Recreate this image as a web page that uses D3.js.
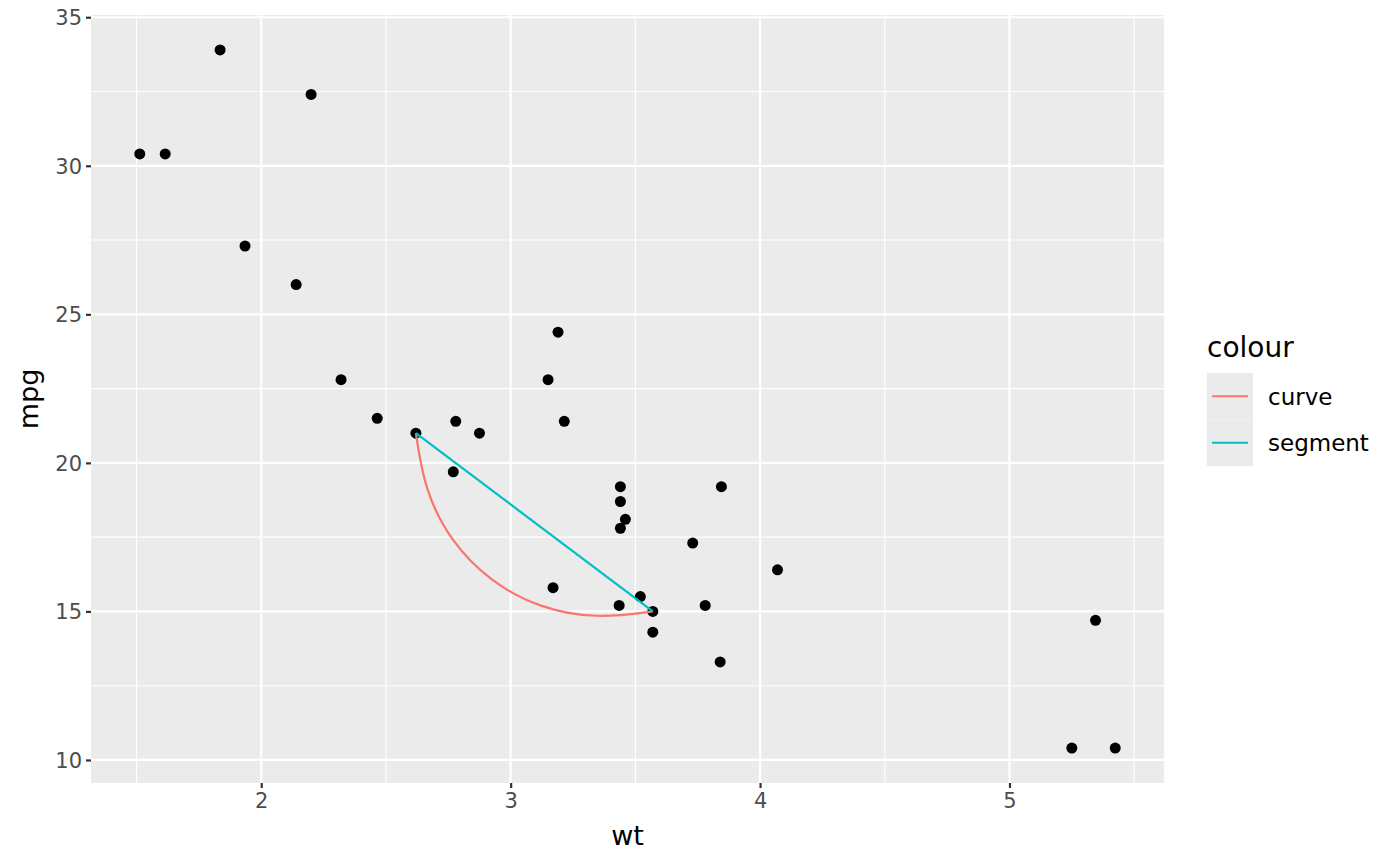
<!DOCTYPE html>
<html>
<head>
<meta charset="utf-8">
<script src="https://cdn.jsdelivr.net/npm/d3@7"></script>
<style>
  body { margin: 0; background: #fff; }
  text { font-family: "DejaVu Sans", sans-serif; }
</style>
</head>
<body>
<svg id="chart" width="1400" height="866"></svg>
<script>
// mtcars wt / mpg
var wt = [2.620, 2.875, 2.320, 3.215, 3.440, 3.460, 3.570, 3.190, 3.150, 3.440, 3.440,
          4.070, 3.730, 3.780, 5.250, 5.424, 5.345, 2.200, 1.615, 1.835, 2.465, 3.520,
          3.435, 3.840, 3.845, 1.935, 2.140, 1.513, 3.170, 2.770, 3.570, 2.780]
var mpg = [21.0, 21.0, 22.8, 21.4, 18.7, 18.1, 14.3, 24.4, 22.8, 19.2, 17.8,
           16.4, 17.3, 15.2, 10.4, 10.4, 14.7, 32.4, 30.4, 33.9, 21.5, 15.5,
           15.2, 13.3, 19.2, 27.3, 26.0, 30.4, 15.8, 19.7, 15.0, 21.4]

// the annotation from (x1,y1) to (x2,y2)
var segX = [2.62, 3.57]
var segY = [21.0, 15.0]
var curvature = 0.5

var xTicks = [2, 3, 4, 5]
var xMinor = [1.5, 2.5, 3.5, 4.5, 5.5]
var yTicks = [10, 15, 20, 25, 30, 35]
var yMinor = [12.5, 17.5, 22.5, 27.5, 32.5]

var legendKeys = ["curve", "segment"]
var legendColors = ["#F8766D", "#00BFC4"]

var svg = d3.select("#chart")
var pLeft = 91, pRight = 1164, pTop = 15, pBottom = 783

function expand(ext) {
    var pad = (ext[1] - ext[0]) * 0.05
    return [ext[0] - pad, ext[1] + pad]
}

var x = d3.scaleLinear().domain(expand(d3.extent(wt))).range([pLeft, pRight])
var y = d3.scaleLinear().domain(expand(d3.extent(mpg))).range([pBottom, pTop])

// panel
svg.append("rect")
    .attr("x", pLeft).attr("y", pTop)
    .attr("width", pRight - pLeft).attr("height", pBottom - pTop)
    .attr("fill", "#EBEBEB")

var grid = svg.append("g")
grid.selectAll(".xmin").data(xMinor.filter(function(d){return x(d) > pLeft && x(d) < pRight}))
    .enter().append("line")
    .attr("x1", function(d){return x(d)}).attr("x2", function(d){return x(d)})
    .attr("y1", pTop).attr("y2", pBottom)
    .attr("stroke", "#fff").attr("stroke-width", 1.1)
grid.selectAll(".ymin").data(yMinor)
    .enter().append("line")
    .attr("y1", function(d){return y(d)}).attr("y2", function(d){return y(d)})
    .attr("x1", pLeft).attr("x2", pRight)
    .attr("stroke", "#fff").attr("stroke-width", 1.1)
grid.selectAll(".xmaj").data(xTicks)
    .enter().append("line")
    .attr("x1", function(d){return x(d)}).attr("x2", function(d){return x(d)})
    .attr("y1", pTop).attr("y2", pBottom)
    .attr("stroke", "#fff").attr("stroke-width", 2.2)
grid.selectAll(".ymaj").data(yTicks)
    .enter().append("line")
    .attr("y1", function(d){return y(d)}).attr("y2", function(d){return y(d)})
    .attr("x1", pLeft).attr("x2", pRight)
    .attr("stroke", "#fff").attr("stroke-width", 2.2)

// axes
var xAxis = svg.append("g")
    .attr("transform", "translate(0," + pBottom + ")")
    .call(d3.axisBottom(x).tickValues(xTicks).tickSize(5).tickPadding(4).tickFormat(d3.format("d")))
var yAxis = svg.append("g")
    .attr("transform", "translate(" + pLeft + ",0)")
    .call(d3.axisLeft(y).tickValues(yTicks).tickSize(5).tickPadding(4).tickFormat(d3.format("d")))
;[xAxis, yAxis].forEach(function(a){
    a.attr("font-size", null).attr("font-family", null)
    a.select(".domain").remove()
    a.selectAll(".tick line").attr("stroke", "#333333").attr("stroke-width", 2.2)
    a.selectAll(".tick text").attr("fill", "#4D4D4D")
        .style("font-size", "21px")
})
xAxis.selectAll(".tick text").attr("dy", "0.78em")
yAxis.selectAll(".tick text").attr("dy", "0.36em")

svg.append("text")
    .attr("x", (pLeft + pRight) / 2).attr("y", 845)
    .attr("text-anchor", "middle")
    .style("font-size", "27px")
    .text("wt")
svg.append("text")
    .attr("transform", "translate(38," + ((pTop + pBottom) / 2) + ") rotate(-90)")
    .attr("text-anchor", "middle")
    .style("font-size", "27px")
    .text("mpg")

// points
svg.append("g").selectAll("circle")
    .data(d3.range(wt.length))
    .enter().append("circle")
    .attr("cx", function(i){return x(wt[i])})
    .attr("cy", function(i){return y(mpg[i])})
    .attr("r", 5.5)
    .attr("fill", "#000")

// curve: control points on a circular arc, smoothed with a basis spline
function curvePoints(x1, y1, x2, y2, c, n) {
    var mx = (x1 + x2) / 2, my = (y1 + y2) / 2
    var dx = x2 - x1, dy = y2 - y1
    var len = Math.sqrt(dx * dx + dy * dy)
    var h = len / 2
    var ux = dx / len, uy = dy / len
    var nx = -uy, ny = ux          // bulge to the right of travel
    var s = c * h
    var R = (h * h + s * s) / (2 * s)
    var cx = mx - nx * (R - s), cy = my - ny * (R - s)
    var alpha = 2 * Math.atan(c)
    return d3.range(n + 2).map(function(k){
        var phi = -alpha + 2 * alpha * k / (n + 1)
        return [cx + R * (Math.sin(phi) * ux + Math.cos(phi) * nx),
                cy + R * (Math.sin(phi) * uy + Math.cos(phi) * ny)]
    })
}

var pts = curvePoints(x(segX[0]), y(segY[0]), x(segX[1]), y(segY[1]), curvature, 5)
svg.append("path")
    .attr("d", d3.line().curve(d3.curveBasis)(pts))
    .attr("fill", "none")
    .attr("stroke", legendColors[0])
    .attr("stroke-width", 2.2)

svg.append("line")
    .attr("x1", x(segX[0])).attr("y1", y(segY[0]))
    .attr("x2", x(segX[1])).attr("y2", y(segY[1]))
    .attr("stroke", legendColors[1])
    .attr("stroke-width", 2.2)

// legend
var lg = svg.append("g").attr("transform", "translate(1207,373)")
lg.append("text").attr("x", 0).attr("y", -16)
    .style("font-size", "28px").text("colour")
var keyH = 46.5
var keys = lg.selectAll(".key").data(legendKeys).enter().append("g")
    .attr("transform", function(d, i){return "translate(0," + (i * keyH) + ")"})
keys.append("rect").attr("width", 46).attr("height", keyH).attr("fill", "#EBEBEB")
keys.append("line").attr("x1", 5).attr("x2", 41)
    .attr("y1", keyH / 2).attr("y2", keyH / 2)
    .attr("stroke", function(d, i){return legendColors[i]})
    .attr("stroke-width", 2.2)
keys.append("text").attr("x", 61).attr("y", keyH / 2).attr("dy", "0.36em")
    .style("font-size", "23px").text(function(d){return d})
</script>
</body>
</html>
